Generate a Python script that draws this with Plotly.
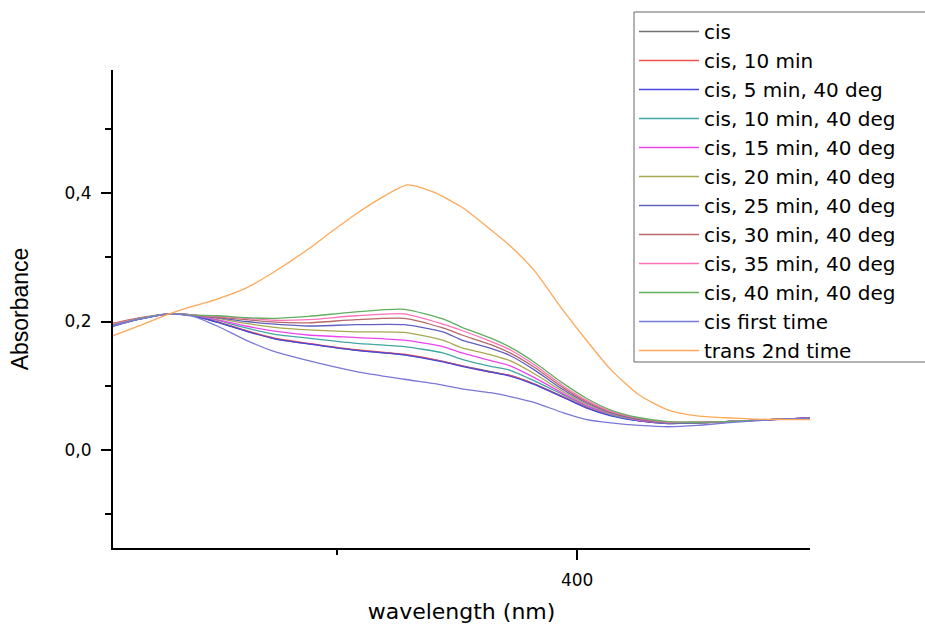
import plotly.graph_objects as go

wavelength = [303, 309, 315, 320, 325, 331, 337, 344, 354, 364, 372, 376, 382,
              386, 391, 397, 402, 407, 413, 419, 425, 431, 437, 443, 449]

cis = [0.194, 0.204, 0.212, 0.209, 0.199, 0.185, 0.173, 0.165, 0.155, 0.148, 0.138, 0.131, 0.122,
       0.116, 0.103, 0.083, 0.066, 0.054, 0.045, 0.041, 0.042, 0.044, 0.046, 0.048, 0.050]
cis_10 = [0.196, 0.205, 0.212, 0.209, 0.200, 0.186, 0.174, 0.166, 0.156, 0.149, 0.138, 0.131, 0.121,
          0.116, 0.103, 0.083, 0.066, 0.054, 0.045, 0.042, 0.042, 0.044, 0.046, 0.048, 0.050]
cis_5_40 = [0.192, 0.204, 0.212, 0.209, 0.199, 0.185, 0.173, 0.165, 0.155, 0.148, 0.137, 0.130, 0.121,
            0.115, 0.102, 0.082, 0.065, 0.053, 0.045, 0.041, 0.042, 0.044, 0.046, 0.048, 0.050]
cis_10_40 = [0.195, 0.205, 0.212, 0.210, 0.202, 0.190, 0.180, 0.174, 0.166, 0.161, 0.151, 0.141, 0.130,
             0.124, 0.108, 0.086, 0.068, 0.055, 0.046, 0.042, 0.042, 0.044, 0.046, 0.048, 0.049]
cis_15_40 = [0.196, 0.205, 0.212, 0.210, 0.203, 0.193, 0.185, 0.179, 0.175, 0.171, 0.161, 0.151, 0.139,
             0.131, 0.113, 0.088, 0.069, 0.056, 0.046, 0.042, 0.042, 0.044, 0.046, 0.048, 0.050]
cis_20_40 = [0.195, 0.205, 0.212, 0.210, 0.205, 0.197, 0.191, 0.187, 0.184, 0.183, 0.171, 0.159, 0.148,
             0.139, 0.119, 0.091, 0.071, 0.057, 0.047, 0.042, 0.042, 0.044, 0.046, 0.048, 0.049]
cis_25_40 = [0.193, 0.204, 0.212, 0.210, 0.206, 0.200, 0.196, 0.193, 0.195, 0.195, 0.184, 0.171, 0.158,
             0.147, 0.125, 0.094, 0.073, 0.058, 0.047, 0.042, 0.042, 0.044, 0.046, 0.048, 0.050]
cis_30_40 = [0.197, 0.206, 0.212, 0.210, 0.207, 0.203, 0.199, 0.198, 0.203, 0.205, 0.190, 0.179, 0.164,
             0.151, 0.129, 0.097, 0.075, 0.059, 0.048, 0.043, 0.043, 0.044, 0.046, 0.048, 0.049]
cis_35_40 = [0.196, 0.205, 0.212, 0.210, 0.208, 0.205, 0.202, 0.203, 0.209, 0.212, 0.196, 0.186, 0.169,
             0.156, 0.133, 0.100, 0.077, 0.060, 0.049, 0.043, 0.043, 0.044, 0.046, 0.048, 0.049]
cis_40_40 = [0.194, 0.205, 0.212, 0.210, 0.209, 0.206, 0.205, 0.208, 0.215, 0.219, 0.204, 0.191, 0.174,
             0.160, 0.137, 0.104, 0.080, 0.062, 0.050, 0.044, 0.043, 0.044, 0.046, 0.048, 0.049]
cis_first = [0.193, 0.204, 0.212, 0.208, 0.193, 0.171, 0.153, 0.139, 0.122, 0.110, 0.101, 0.095, 0.089,
             0.083, 0.074, 0.058, 0.047, 0.042, 0.038, 0.036, 0.038, 0.042, 0.045, 0.048, 0.049]

wavelength_trans = [303, 309, 315, 320, 325, 331, 337, 344, 349, 354, 359, 364.6, 370, 376, 382,
                    386, 391, 397, 402, 407, 413, 419, 425, 431, 437, 443, 449]
trans_2nd = [0.177, 0.194, 0.212, 0.224, 0.235, 0.252, 0.278, 0.313, 0.341, 0.368, 0.392, 0.413, 0.402,
             0.378, 0.343, 0.318, 0.280, 0.218, 0.170, 0.125, 0.085, 0.062, 0.053, 0.050, 0.048, 0.047, 0.047]

names = ["cis", "cis, 10 min", "cis, 5 min, 40 deg", "cis, 10 min, 40 deg", "cis, 15 min, 40 deg",
         "cis, 20 min, 40 deg", "cis, 25 min, 40 deg", "cis, 30 min, 40 deg", "cis, 35 min, 40 deg",
         "cis, 40 min, 40 deg", "cis first time", "trans 2nd time"]
series = [cis, cis_10, cis_5_40, cis_10_40, cis_15_40, cis_20_40, cis_25_40, cis_30_40,
          cis_35_40, cis_40_40, cis_first, trans_2nd]
colors = ["#707070", "#f05050", "#4848e0", "#40a8a0", "#ee44ee", "#a8a850", "#6060c0",
          "#b86868", "#ff70b8", "#60b060", "#7878d8", "#ffa858"]

fig = go.Figure()
for name, vals, col in zip(names, series, colors):
    xs = wavelength_trans if name == "trans 2nd time" else wavelength
    fig.add_trace(go.Scatter(x=xs, y=vals, name=name, mode="lines",
                             line=dict(color=col, width=1.3, shape="spline", smoothing=0.6)))

# plot area in pixels: x 113..810, y 70..548
px_w, px_h = 697, 478
def px_x(p):
    return (p - 113) / px_w
def px_y(p):
    return (548 - p) / px_h

# legend frame: white box whose right border runs off the canvas, as in the original
fig.add_shape(type="rect", xref="paper", yref="paper",
              x0=px_x(634), x1=px_x(940), y0=px_y(362), y1=px_y(12),
              line=dict(color="#666666", width=1), fillcolor="white", layer="above")

fig.update_layout(
    width=925, height=624,
    margin=dict(l=113, r=115, t=70, b=76, autoexpand=False),
    paper_bgcolor="white", plot_bgcolor="white",
    separators=",.",
    font=dict(family="DejaVu Sans", color="black"),
    showlegend=True,
    legend=dict(x=px_x(634), y=px_y(12), xanchor="left", yanchor="top",
                borderwidth=0, bgcolor="rgba(0,0,0,0)",
                font=dict(family="DejaVu Sans", size=20, color="black"),
                tracegroupgap=0, itemwidth=60, maxheight=420),
)
fig.update_xaxes(
    range=[303.3, 448.5], showgrid=False, zeroline=False,
    showline=True, linecolor="black", linewidth=2,
    ticks="outside", ticklen=10, tickwidth=2, tickcolor="black",
    tick0=0, dtick=100,
    minor=dict(ticks="outside", ticklen=5, tickwidth=2, tickcolor="black", tick0=0, dtick=50),
    tickfont=dict(family="DejaVu Sans", size=17),
    ticklabelstandoff=6,
    title=dict(text="wavelength (nm)", font=dict(family="DejaVu Sans", size=22), standoff=14),
)
fig.update_yaxes(
    range=[-0.153, 0.592], showgrid=False, zeroline=False,
    showline=True, linecolor="black", linewidth=2,
    ticks="outside", ticklen=10, tickwidth=2, tickcolor="black",
    tick0=0, dtick=0.2, tickformat=".1f",
    minor=dict(ticks="outside", ticklen=6, tickwidth=2, tickcolor="black", tick0=0, dtick=0.1),
    tickfont=dict(family="DejaVu Sans", size=17),
    ticklabelstandoff=6,
    title=dict(text="Absorbance", font=dict(family="Liberation Sans", size=23), standoff=30),
)

fig.write_html("out.html", config={"displayModeBar": False},
               post_script="document.body.style.margin='0';document.body.style.padding='0';")
